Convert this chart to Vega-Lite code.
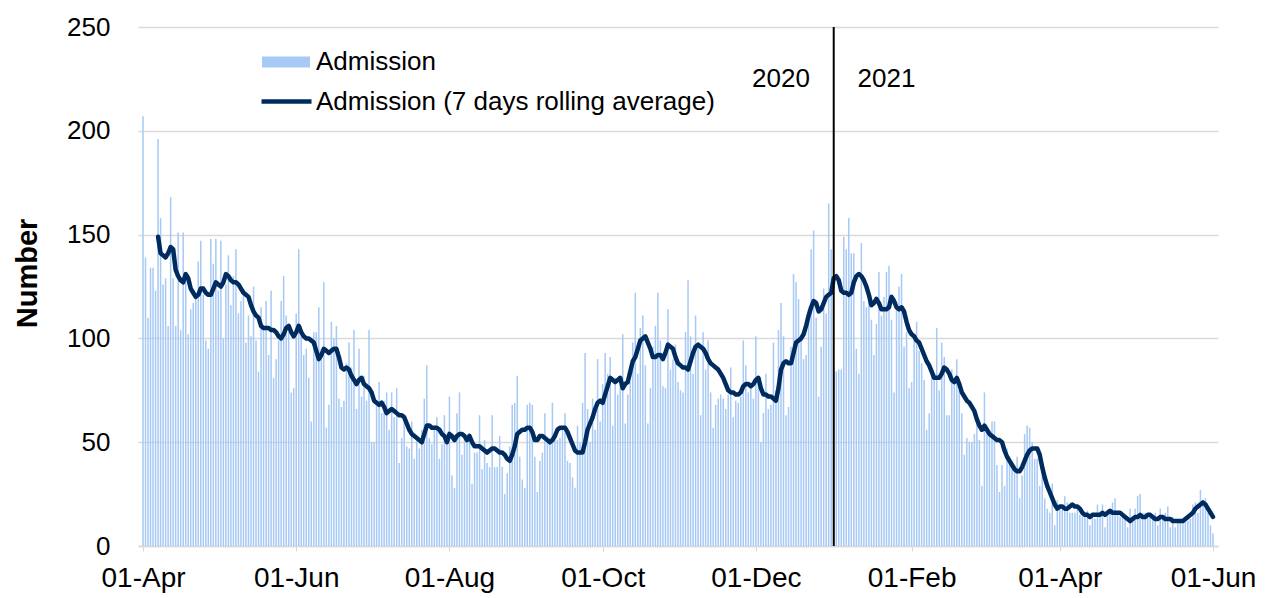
{
"$schema": "https://vega.github.io/schema/vega-lite/v6.json",
"width": 1080, "height": 519,
"autosize": {"type": "none"},
"padding": {"left": 138, "top": 27, "right": 55, "bottom": 52},
"background": "white",
"config": {"view": {"stroke": null}, "font": "Liberation Sans"},
"datasets": {"adm": [
{"d":"2020-04-01","a":207},{"d":"2020-04-02","a":139},{"d":"2020-04-03","a":110},{"d":"2020-04-04","a":134},{"d":"2020-04-05","a":134},{"d":"2020-04-06","a":123},
{"d":"2020-04-07","a":196,"r":149},{"d":"2020-04-08","a":158,"r":141},{"d":"2020-04-09","a":126,"r":140},{"d":"2020-04-10","a":129,"r":139},{"d":"2020-04-11","a":106,"r":141},{"d":"2020-04-12","a":168,"r":144},{"d":"2020-04-13","a":129,"r":143},{"d":"2020-04-14","a":106,"r":133},{"d":"2020-04-15","a":151,"r":130},{"d":"2020-04-16","a":104,"r":128},{"d":"2020-04-17","a":151,"r":127},{"d":"2020-04-18","a":130,"r":131},{"d":"2020-04-19","a":102,"r":129},{"d":"2020-04-20","a":114,"r":124},{"d":"2020-04-21","a":117,"r":122},{"d":"2020-04-22","a":121,"r":120},{"d":"2020-04-23","a":137,"r":121},{"d":"2020-04-24","a":147,"r":124},{"d":"2020-04-25","a":121,"r":124},{"d":"2020-04-26","a":99,"r":122},{"d":"2020-04-27","a":95,"r":121},{"d":"2020-04-28","a":148,"r":121},{"d":"2020-04-29","a":136,"r":124},{"d":"2020-04-30","a":148,"r":127},
{"d":"2020-05-01","a":123,"r":126},{"d":"2020-05-02","a":147,"r":125},{"d":"2020-05-03","a":100,"r":127},{"d":"2020-05-04","a":126,"r":131},{"d":"2020-05-05","a":140,"r":130},{"d":"2020-05-06","a":116,"r":128},{"d":"2020-05-07","a":130,"r":127},{"d":"2020-05-08","a":143,"r":127},{"d":"2020-05-09","a":112,"r":126},{"d":"2020-05-10","a":118,"r":124},{"d":"2020-05-11","a":123,"r":122},{"d":"2020-05-12","a":98,"r":121},{"d":"2020-05-13","a":111,"r":120},{"d":"2020-05-14","a":101,"r":116},{"d":"2020-05-15","a":125,"r":113},{"d":"2020-05-16","a":99,"r":111},{"d":"2020-05-17","a":84,"r":110},{"d":"2020-05-18","a":115,"r":106},{"d":"2020-05-19","a":105,"r":105},{"d":"2020-05-20","a":118,"r":105},{"d":"2020-05-21","a":92,"r":105},{"d":"2020-05-22","a":123,"r":104},{"d":"2020-05-23","a":81,"r":104},{"d":"2020-05-24","a":90,"r":103},{"d":"2020-05-25","a":99,"r":101},{"d":"2020-05-26","a":118,"r":100},{"d":"2020-05-27","a":130,"r":102},{"d":"2020-05-28","a":111,"r":105},{"d":"2020-05-29","a":103,"r":106},{"d":"2020-05-30","a":74,"r":103},{"d":"2020-05-31","a":76,"r":101},
{"d":"2020-06-01","a":112,"r":103},{"d":"2020-06-02","a":143,"r":106},{"d":"2020-06-03","a":106,"r":103},{"d":"2020-06-04","a":92,"r":101},{"d":"2020-06-05","a":95,"r":100},{"d":"2020-06-06","a":81,"r":100},{"d":"2020-06-07","a":60,"r":99},{"d":"2020-06-08","a":103,"r":98},{"d":"2020-06-09","a":103,"r":94},{"d":"2020-06-10","a":115,"r":90},{"d":"2020-06-11","a":95,"r":92},{"d":"2020-06-12","a":127,"r":95},{"d":"2020-06-13","a":57,"r":94},{"d":"2020-06-14","a":68,"r":93},{"d":"2020-06-15","a":108,"r":94},{"d":"2020-06-16","a":100,"r":95},{"d":"2020-06-17","a":106,"r":95},{"d":"2020-06-18","a":71,"r":91},{"d":"2020-06-19","a":67,"r":86},{"d":"2020-06-20","a":70,"r":85},{"d":"2020-06-21","a":88,"r":86},{"d":"2020-06-22","a":98,"r":85},{"d":"2020-06-23","a":86,"r":82},{"d":"2020-06-24","a":104,"r":80},{"d":"2020-06-25","a":66,"r":78},{"d":"2020-06-26","a":95,"r":80},{"d":"2020-06-27","a":72,"r":81},{"d":"2020-06-28","a":82,"r":78},{"d":"2020-06-29","a":70,"r":77},{"d":"2020-06-30","a":104,"r":76},
{"d":"2020-07-01","a":50,"r":74},{"d":"2020-07-02","a":50,"r":70},{"d":"2020-07-03","a":68,"r":69},{"d":"2020-07-04","a":79,"r":68},{"d":"2020-07-05","a":64,"r":69},{"d":"2020-07-06","a":70,"r":67},{"d":"2020-07-07","a":74,"r":64},{"d":"2020-07-08","a":56,"r":65},{"d":"2020-07-09","a":74,"r":66},{"d":"2020-07-10","a":62,"r":65},{"d":"2020-07-11","a":76,"r":64},{"d":"2020-07-12","a":40,"r":63},{"d":"2020-07-13","a":52,"r":63},{"d":"2020-07-14","a":62,"r":62},{"d":"2020-07-15","a":48,"r":59},{"d":"2020-07-16","a":47,"r":56},{"d":"2020-07-17","a":60,"r":54},{"d":"2020-07-18","a":42,"r":53},{"d":"2020-07-19","a":52,"r":52},{"d":"2020-07-20","a":47,"r":51},{"d":"2020-07-21","a":56,"r":50},{"d":"2020-07-22","a":71,"r":54},{"d":"2020-07-23","a":87,"r":58},{"d":"2020-07-24","a":52,"r":58},{"d":"2020-07-25","a":49,"r":57},{"d":"2020-07-26","a":57,"r":57},{"d":"2020-07-27","a":62,"r":57},{"d":"2020-07-28","a":42,"r":56},{"d":"2020-07-29","a":49,"r":54},{"d":"2020-07-30","a":63,"r":53},{"d":"2020-07-31","a":50,"r":50},
{"d":"2020-08-01","a":72,"r":54},{"d":"2020-08-02","a":34,"r":53},{"d":"2020-08-03","a":28,"r":51},{"d":"2020-08-04","a":64,"r":53},{"d":"2020-08-05","a":74,"r":54},{"d":"2020-08-06","a":44,"r":54},{"d":"2020-08-07","a":54,"r":53},{"d":"2020-08-08","a":50,"r":51},{"d":"2020-08-09","a":54,"r":53},{"d":"2020-08-10","a":30,"r":50},{"d":"2020-08-11","a":45,"r":48},{"d":"2020-08-12","a":45,"r":48},{"d":"2020-08-13","a":63,"r":48},{"d":"2020-08-14","a":37,"r":47},{"d":"2020-08-15","a":51,"r":46},{"d":"2020-08-16","a":40,"r":45},{"d":"2020-08-17","a":38,"r":46},{"d":"2020-08-18","a":63,"r":47},{"d":"2020-08-19","a":38,"r":47},{"d":"2020-08-20","a":38,"r":46},{"d":"2020-08-21","a":53,"r":45},{"d":"2020-08-22","a":38,"r":45},{"d":"2020-08-23","a":25,"r":44},{"d":"2020-08-24","a":35,"r":42},{"d":"2020-08-25","a":48,"r":41},{"d":"2020-08-26","a":68,"r":44},{"d":"2020-08-27","a":69,"r":48},{"d":"2020-08-28","a":82,"r":54},{"d":"2020-08-29","a":43,"r":55},{"d":"2020-08-30","a":32,"r":56},{"d":"2020-08-31","a":28,"r":56},
{"d":"2020-09-01","a":68,"r":57},{"d":"2020-09-02","a":69,"r":57},{"d":"2020-09-03","a":68,"r":55},{"d":"2020-09-04","a":43,"r":51},{"d":"2020-09-05","a":26,"r":51},{"d":"2020-09-06","a":41,"r":53},{"d":"2020-09-07","a":45,"r":53},{"d":"2020-09-08","a":64,"r":52},{"d":"2020-09-09","a":50,"r":51},{"d":"2020-09-10","a":52,"r":50},{"d":"2020-09-11","a":69,"r":51},{"d":"2020-09-12","a":51,"r":53},{"d":"2020-09-13","a":51,"r":56},{"d":"2020-09-14","a":52,"r":57},{"d":"2020-09-15","a":56,"r":57},{"d":"2020-09-16","a":64,"r":57},{"d":"2020-09-17","a":41,"r":55},{"d":"2020-09-18","a":40,"r":52},{"d":"2020-09-19","a":33,"r":49},{"d":"2020-09-20","a":28,"r":46},{"d":"2020-09-21","a":58,"r":45},{"d":"2020-09-22","a":50,"r":45},{"d":"2020-09-23","a":69,"r":45},{"d":"2020-09-24","a":93,"r":50},{"d":"2020-09-25","a":66,"r":56},{"d":"2020-09-26","a":50,"r":59},{"d":"2020-09-27","a":71,"r":62},{"d":"2020-09-28","a":56,"r":66},{"d":"2020-09-29","a":90,"r":69},{"d":"2020-09-30","a":60,"r":70},
{"d":"2020-10-01","a":78,"r":69},{"d":"2020-10-02","a":93,"r":73},{"d":"2020-10-03","a":83,"r":77},{"d":"2020-10-04","a":91,"r":81},{"d":"2020-10-05","a":58,"r":80},{"d":"2020-10-06","a":81,"r":79},{"d":"2020-10-07","a":73,"r":80},{"d":"2020-10-08","a":78,"r":81},{"d":"2020-10-09","a":102,"r":76},{"d":"2020-10-10","a":59,"r":78},{"d":"2020-10-11","a":73,"r":79},{"d":"2020-10-12","a":79,"r":84},{"d":"2020-10-13","a":98,"r":89},{"d":"2020-10-14","a":122,"r":91},{"d":"2020-10-15","a":83,"r":95},{"d":"2020-10-16","a":105,"r":99},{"d":"2020-10-17","a":111,"r":100},{"d":"2020-10-18","a":87,"r":101},{"d":"2020-10-19","a":59,"r":98},{"d":"2020-10-20","a":76,"r":95},{"d":"2020-10-21","a":96,"r":91},{"d":"2020-10-22","a":106,"r":91},{"d":"2020-10-23","a":122,"r":92},{"d":"2020-10-24","a":99,"r":92},{"d":"2020-10-25","a":77,"r":90},{"d":"2020-10-26","a":76,"r":93},{"d":"2020-10-27","a":114,"r":97},{"d":"2020-10-28","a":85,"r":96},{"d":"2020-10-29","a":90,"r":95},{"d":"2020-10-30","a":97,"r":91},{"d":"2020-10-31","a":79,"r":88},
{"d":"2020-11-01","a":75,"r":87},{"d":"2020-11-02","a":74,"r":86},{"d":"2020-11-03","a":103,"r":86},{"d":"2020-11-04","a":128,"r":85},{"d":"2020-11-05","a":101,"r":89},{"d":"2020-11-06","a":83,"r":93},{"d":"2020-11-07","a":111,"r":96},{"d":"2020-11-08","a":96,"r":97},{"d":"2020-11-09","a":63,"r":96},{"d":"2020-11-10","a":103,"r":95},{"d":"2020-11-11","a":85,"r":93},{"d":"2020-11-12","a":99,"r":90},{"d":"2020-11-13","a":74,"r":88},{"d":"2020-11-14","a":57,"r":87},{"d":"2020-11-15","a":68,"r":86},{"d":"2020-11-16","a":71,"r":85},{"d":"2020-11-17","a":73,"r":83},{"d":"2020-11-18","a":71,"r":81},{"d":"2020-11-19","a":66,"r":78},{"d":"2020-11-20","a":73,"r":75},{"d":"2020-11-21","a":86,"r":74},{"d":"2020-11-22","a":62,"r":74},{"d":"2020-11-23","a":70,"r":73},{"d":"2020-11-24","a":69,"r":73},{"d":"2020-11-25","a":72,"r":74},{"d":"2020-11-26","a":99,"r":77},{"d":"2020-11-27","a":87,"r":78},{"d":"2020-11-28","a":74,"r":78},{"d":"2020-11-29","a":76,"r":77},{"d":"2020-11-30","a":71,"r":78},
{"d":"2020-12-01","a":101,"r":80},{"d":"2020-12-02","a":82,"r":81},{"d":"2020-12-03","a":50,"r":76},{"d":"2020-12-04","a":64,"r":73},{"d":"2020-12-05","a":83,"r":73},{"d":"2020-12-06","a":66,"r":72},{"d":"2020-12-07","a":68,"r":72},{"d":"2020-12-08","a":98,"r":71},{"d":"2020-12-09","a":75,"r":70},{"d":"2020-12-10","a":104,"r":76},{"d":"2020-12-11","a":117,"r":85},{"d":"2020-12-12","a":101,"r":88},{"d":"2020-12-13","a":63,"r":89},{"d":"2020-12-14","a":67,"r":88},{"d":"2020-12-15","a":96,"r":88},{"d":"2020-12-16","a":131,"r":93},{"d":"2020-12-17","a":127,"r":98},{"d":"2020-12-18","a":119,"r":99},{"d":"2020-12-19","a":99,"r":100},{"d":"2020-12-20","a":90,"r":102},{"d":"2020-12-21","a":92,"r":106},{"d":"2020-12-22","a":114,"r":111},{"d":"2020-12-23","a":143,"r":115},{"d":"2020-12-24","a":152,"r":118},{"d":"2020-12-25","a":110,"r":117},{"d":"2020-12-26","a":72,"r":113},{"d":"2020-12-27","a":96,"r":114},{"d":"2020-12-28","a":124,"r":117},{"d":"2020-12-29","a":112,"r":120},{"d":"2020-12-30","a":165,"r":121},{"d":"2020-12-31","a":143,"r":122},
{"d":"2021-01-01","a":84,"r":129},{"d":"2021-01-02","a":84,"r":130},{"d":"2021-01-03","a":85,"r":128},{"d":"2021-01-04","a":85,"r":123},{"d":"2021-01-05","a":149,"r":122},{"d":"2021-01-06","a":143,"r":122},{"d":"2021-01-07","a":158,"r":121},{"d":"2021-01-08","a":141,"r":122},{"d":"2021-01-09","a":141,"r":127},{"d":"2021-01-10","a":95,"r":130},{"d":"2021-01-11","a":83,"r":131},{"d":"2021-01-12","a":146,"r":130},{"d":"2021-01-13","a":118,"r":128},{"d":"2021-01-14","a":115,"r":125},{"d":"2021-01-15","a":122,"r":121},{"d":"2021-01-16","a":109,"r":116},{"d":"2021-01-17","a":92,"r":117},{"d":"2021-01-18","a":107,"r":119},{"d":"2021-01-19","a":132,"r":117},{"d":"2021-01-20","a":111,"r":114},{"d":"2021-01-21","a":120,"r":114},{"d":"2021-01-22","a":132,"r":114},{"d":"2021-01-23","a":135,"r":115},{"d":"2021-01-24","a":109,"r":120},{"d":"2021-01-25","a":74,"r":118},{"d":"2021-01-26","a":118,"r":115},{"d":"2021-01-27","a":125,"r":114},{"d":"2021-01-28","a":131,"r":115},{"d":"2021-01-29","a":96,"r":113},{"d":"2021-01-30","a":103,"r":108},{"d":"2021-01-31","a":76,"r":104},
{"d":"2021-02-01","a":79,"r":102},{"d":"2021-02-02","a":100,"r":101},{"d":"2021-02-03","a":108,"r":99},{"d":"2021-02-04","a":94,"r":98},{"d":"2021-02-05","a":88,"r":95},{"d":"2021-02-06","a":80,"r":92},{"d":"2021-02-07","a":56,"r":89},{"d":"2021-02-08","a":64,"r":87},{"d":"2021-02-09","a":83,"r":84},{"d":"2021-02-10","a":82,"r":81},{"d":"2021-02-11","a":105,"r":81},{"d":"2021-02-12","a":75,"r":81},{"d":"2021-02-13","a":98,"r":83},{"d":"2021-02-14","a":91,"r":86},{"d":"2021-02-15","a":63,"r":85},{"d":"2021-02-16","a":63,"r":83},{"d":"2021-02-17","a":85,"r":80},{"d":"2021-02-18","a":78,"r":79},{"d":"2021-02-19","a":90,"r":81},{"d":"2021-02-20","a":75,"r":78},{"d":"2021-02-21","a":64,"r":74},{"d":"2021-02-22","a":44,"r":72},{"d":"2021-02-23","a":52,"r":70},{"d":"2021-02-24","a":50,"r":69},{"d":"2021-02-25","a":50,"r":67},{"d":"2021-02-26","a":54,"r":65},{"d":"2021-02-27","a":59,"r":61},{"d":"2021-02-28","a":51,"r":58},
{"d":"2021-03-01","a":29,"r":56},{"d":"2021-03-02","a":74,"r":58},{"d":"2021-03-03","a":56,"r":56},{"d":"2021-03-04","a":54,"r":54},{"d":"2021-03-05","a":60,"r":53},{"d":"2021-03-06","a":60,"r":52},{"d":"2021-03-07","a":39,"r":51},{"d":"2021-03-08","a":26,"r":51},{"d":"2021-03-09","a":39,"r":50},{"d":"2021-03-10","a":29,"r":46},{"d":"2021-03-11","a":47,"r":43},{"d":"2021-03-12","a":43,"r":41},{"d":"2021-03-13","a":39,"r":39},{"d":"2021-03-14","a":39,"r":37},{"d":"2021-03-15","a":43,"r":36},{"d":"2021-03-16","a":23,"r":36},{"d":"2021-03-17","a":34,"r":38},{"d":"2021-03-18","a":54,"r":41},{"d":"2021-03-19","a":58,"r":44},{"d":"2021-03-20","a":57,"r":46},{"d":"2021-03-21","a":50,"r":47},{"d":"2021-03-22","a":42,"r":47},{"d":"2021-03-23","a":42,"r":47},{"d":"2021-03-24","a":29,"r":44},{"d":"2021-03-25","a":36,"r":38},{"d":"2021-03-26","a":23,"r":33},{"d":"2021-03-27","a":18,"r":29},{"d":"2021-03-28","a":16,"r":26},{"d":"2021-03-29","a":30,"r":23},{"d":"2021-03-30","a":10,"r":20},{"d":"2021-03-31","a":22,"r":18},
{"d":"2021-04-01","a":19,"r":19},{"d":"2021-04-02","a":19,"r":19},{"d":"2021-04-03","a":24,"r":18},{"d":"2021-04-04","a":21,"r":18},{"d":"2021-04-05","a":16,"r":19},{"d":"2021-04-06","a":16,"r":20},{"d":"2021-04-07","a":16,"r":19},{"d":"2021-04-08","a":18,"r":19},{"d":"2021-04-09","a":15,"r":18},{"d":"2021-04-10","a":15,"r":16},{"d":"2021-04-11","a":14,"r":15},{"d":"2021-04-12","a":17,"r":15},{"d":"2021-04-13","a":10,"r":14},{"d":"2021-04-14","a":15,"r":15},{"d":"2021-04-15","a":13,"r":15},{"d":"2021-04-16","a":20,"r":15},{"d":"2021-04-17","a":16,"r":15},{"d":"2021-04-18","a":20,"r":16},{"d":"2021-04-19","a":9,"r":15},{"d":"2021-04-20","a":16,"r":16},{"d":"2021-04-21","a":16,"r":17},{"d":"2021-04-22","a":21,"r":16},{"d":"2021-04-23","a":23,"r":16},{"d":"2021-04-24","a":15,"r":16},{"d":"2021-04-25","a":14,"r":16},{"d":"2021-04-26","a":15,"r":15},{"d":"2021-04-27","a":14,"r":14},{"d":"2021-04-28","a":9,"r":13},{"d":"2021-04-29","a":18,"r":12},{"d":"2021-04-30","a":12,"r":13},
{"d":"2021-05-01","a":18,"r":14},{"d":"2021-05-02","a":24,"r":14},{"d":"2021-05-03","a":25,"r":15},{"d":"2021-05-04","a":16,"r":14},{"d":"2021-05-05","a":16,"r":14},{"d":"2021-05-06","a":15,"r":15},{"d":"2021-05-07","a":16,"r":15},{"d":"2021-05-08","a":14,"r":14},{"d":"2021-05-09","a":16,"r":13},{"d":"2021-05-10","a":10,"r":13},{"d":"2021-05-11","a":18,"r":14},{"d":"2021-05-12","a":15,"r":14},{"d":"2021-05-13","a":16,"r":13},{"d":"2021-05-14","a":19,"r":13},{"d":"2021-05-15","a":9,"r":13},{"d":"2021-05-16","a":14,"r":12},{"d":"2021-05-17","a":9,"r":12},{"d":"2021-05-18","a":13,"r":12},{"d":"2021-05-19","a":13,"r":12},{"d":"2021-05-20","a":12,"r":12},{"d":"2021-05-21","a":13,"r":13},{"d":"2021-05-22","a":12,"r":14},{"d":"2021-05-23","a":13,"r":15},{"d":"2021-05-24","a":20,"r":16},{"d":"2021-05-25","a":21,"r":18},{"d":"2021-05-26","a":16,"r":19},{"d":"2021-05-27","a":27,"r":20},{"d":"2021-05-28","a":21,"r":21},{"d":"2021-05-29","a":23,"r":20},{"d":"2021-05-30","a":16,"r":18},{"d":"2021-05-31","a":10,"r":16},
{"d":"2021-06-01","a":6,"r":14}
]},
"layer": [
{"data": {"name": "adm"},
 "mark": {"type": "bar", "width": 1.5},
 "encoding": {
  "x": {"field": "d", "type": "temporal", "title": null,
   "scale": {"type": "utc", "domain": [{"year": 2020, "month": 4, "date": 1, "utc": true}, {"year": 2021, "month": 6, "date": 1, "utc": true}]},
   "axis": {"values": [{"year": 2020, "month": 4, "date": 1, "utc": true}, {"year": 2020, "month": 6, "date": 1, "utc": true}, {"year": 2020, "month": 8, "date": 1, "utc": true}, {"year": 2020, "month": 10, "date": 1, "utc": true}, {"year": 2020, "month": 12, "date": 1, "utc": true}, {"year": 2021, "month": 2, "date": 1, "utc": true}, {"year": 2021, "month": 4, "date": 1, "utc": true}, {"year": 2021, "month": 6, "date": 1, "utc": true}],
    "labelExpr": "utcFormat(datum.value, '%d-%b')", "labelFontSize": 28, "labelColor": "#000", "labelPadding": 13, "tickSize": 5, "tickColor": "#d9d9d9", "domainColor": "#d9d9d9", "domainWidth": 1.5, "grid": false, "labelFlush": false, "labelOverlap": false}},
  "y": {"field": "a", "type": "quantitative", "title": "Number",
   "scale": {"domain": [0, 250]},
   "axis": {"values": [0, 50, 100, 150, 200, 250], "labelFontSize": 26, "labelColor": "#000", "labelPadding": 28, "ticks": false, "domain": false, "gridColor": "#d9d9d9", "gridWidth": 1.5, "titleFontSize": 29, "titleFontWeight": "bold", "titleColor": "#000", "titleX": -111, "titleY": 246, "titleAngle": -90, "titleBaseline": "middle", "titleAlign": "center"}},
  "fill": {"datum": "Admission", "type": "nominal", "scale": {"range": ["#a6c9f5"]},
   "legend": {"title": null, "orient": "none", "legendX": 124, "legendY": 11, "symbolType": "M-1,-0.23H1V0.23H-1Z", "symbolSize": 2304, "symbolStrokeWidth": 0, "labelFontSize": 26, "labelColor": "#000", "labelOffset": 6, "labelLimit": 700, "padding": 0}}
 }},
{"data": {"name": "adm"},
 "mark": {"type": "line", "strokeWidth": 4.5, "strokeJoin": "round", "strokeCap": "round"},
 "encoding": {
  "x": {"field": "d", "type": "temporal", "title": null, "scale": {"type": "utc", "domain": [{"year": 2020, "month": 4, "date": 1, "utc": true}, {"year": 2021, "month": 6, "date": 1, "utc": true}]}},
  "y": {"field": "r", "type": "quantitative", "title": "Number", "scale": {"domain": [0, 250]}},
  "stroke": {"datum": "Admission (7 days rolling average)", "type": "nominal", "scale": {"range": ["#002b5e"]},
   "legend": {"title": null, "orient": "none", "legendX": 121, "legendY": 47, "symbolType": "stroke", "symbolSize": 2500, "symbolStrokeWidth": 4.5, "labelFontSize": 26, "labelColor": "#000", "labelOffset": 2, "labelLimit": 700, "padding": 0}}
 }},
{"data": {"values": [{"d": "2021-01-01"}]},
 "mark": {"type": "rule", "color": "#000", "strokeWidth": 2},
 "encoding": {"x": {"field": "d", "type": "temporal", "title": null, "scale": {"type": "utc", "domain": [{"year": 2020, "month": 4, "date": 1, "utc": true}, {"year": 2021, "month": 6, "date": 1, "utc": true}]}}}},
{"data": {"values": [{"d": "2020-12-11", "y": 225, "t": "2020"}, {"d": "2021-01-22", "y": 225, "t": "2021"}]},
 "mark": {"type": "text", "fontSize": 26, "color": "#000"},
 "encoding": {
  "x": {"field": "d", "type": "temporal", "title": null, "scale": {"type": "utc", "domain": [{"year": 2020, "month": 4, "date": 1, "utc": true}, {"year": 2021, "month": 6, "date": 1, "utc": true}]}},
  "y": {"field": "y", "type": "quantitative", "title": "Number", "scale": {"domain": [0, 250]}},
  "text": {"field": "t"}
 }}
]
}
